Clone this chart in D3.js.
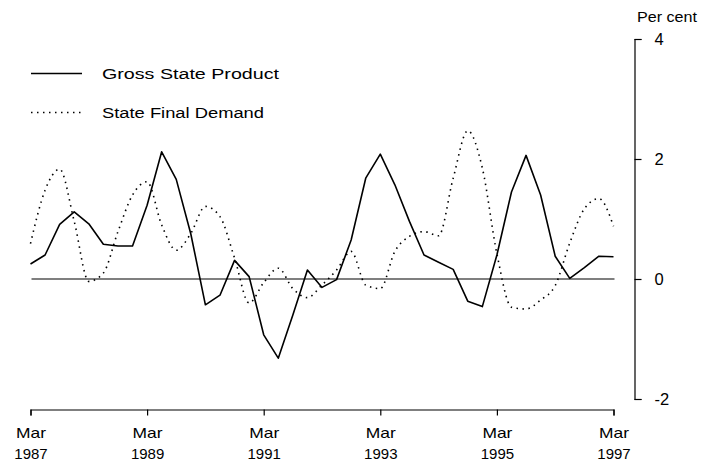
<!DOCTYPE html>
<html>
<head>
<meta charset="utf-8">
<script src="https://cdn.jsdelivr.net/npm/d3@7"></script>
<style>
  html, body { margin: 0; padding: 0; background: #fff; }
  svg { display: block; font-family: "Liberation Sans", Arial, Helvetica, sans-serif; }
</style>
</head>
<body>
<svg id="chart" width="715" height="466"></svg>
<script>
// ---- data ----
const quarters = [
  "Mar 1987","Jun 1987","Sep 1987","Dec 1987",
  "Mar 1988","Jun 1988","Sep 1988","Dec 1988",
  "Mar 1989","Jun 1989","Sep 1989","Dec 1989",
  "Mar 1990","Jun 1990","Sep 1990","Dec 1990",
  "Mar 1991","Jun 1991","Sep 1991","Dec 1991",
  "Mar 1992","Jun 1992","Sep 1992","Dec 1992",
  "Mar 1993","Jun 1993","Sep 1993","Dec 1993",
  "Mar 1994","Jun 1994","Sep 1994","Dec 1994",
  "Mar 1995","Jun 1995","Sep 1995","Dec 1995",
  "Mar 1996","Jun 1996","Sep 1996","Dec 1996",
  "Mar 1997"
];
const grossStateProduct = [
  0.25, 0.40, 0.91, 1.12, 0.92, 0.58, 0.55, 0.55,
  1.23, 2.12, 1.66, 0.75, -0.43, -0.27, 0.31, 0.04,
  -0.93, -1.32, -0.60, 0.15, -0.14, -0.01, 0.65, 1.68,
  2.08, 1.57, 0.96, 0.40, 0.28, 0.16, -0.37, -0.46,
  0.40, 1.45, 2.06, 1.40, 0.38, 0.01, 0.19, 0.38,
  0.37
];
const stateFinalDemand = [
  0.59, 1.48, 1.83, 0.96, -0.04, 0.10, 0.79, 1.40,
  1.62, 0.90, 0.48, 0.76, 1.21, 1.04, 0.35, -0.40,
  -0.06, 0.18, -0.16, -0.31, -0.10, 0.15, 0.46, -0.10,
  -0.16, 0.46, 0.71, 0.79, 0.72, 1.68, 2.47, 1.85,
  0.42, -0.47, -0.50, -0.35, -0.11, 0.60, 1.17, 1.34,
  0.88
];
const xTickCats = ["Mar 1987","Mar 1989","Mar 1991","Mar 1993","Mar 1995","Mar 1997"];
const yTickValues = [-2, 0, 2, 4];
const yTickLabels = ["-2", "0", "2", "4"];
const seriesNames = ["Gross State Product", "State Final Demand"];
const unitLabel = "Per cent";

// ---- layout ----
const svg = d3.select("#chart");
const x = d3.scalePoint().domain(quarters).range([30.5, 613.5]);
const y = d3.scaleLinear().domain([-2, 4]).range([399, 39]);
const axisX = 634.5;
const axisY = 409.5;

// zero line
svg.append("line")
  .attr("x1", x(quarters[0]) + 1).attr("x2", x(quarters[quarters.length - 1]) + 1)
  .attr("y1", y(0)).attr("y2", y(0))
  .attr("stroke", "#000").attr("stroke-width", 1.1);

// series
svg.append("path")
  .datum(stateFinalDemand)
  .attr("d", d3.line().x((d, i) => x(quarters[i])).y(d => y(d)).curve(d3.curveMonotoneX))
  .attr("fill", "none").attr("stroke", "#000")
  .attr("stroke-width", 1.6)
  .attr("stroke-dasharray", "1.5,4.5");
svg.append("path")
  .datum(grossStateProduct)
  .attr("d", d3.line().x((d, i) => x(quarters[i])).y(d => y(d)))
  .attr("fill", "none").attr("stroke", "#000")
  .attr("stroke-width", 1.6).attr("stroke-linejoin", "round");

// x axis
const gx = svg.append("g")
  .attr("transform", `translate(0,${axisY})`)
  .call(d3.axisBottom(x).tickValues(xTickCats).tickSize(6).tickSizeOuter(6).tickFormat(() => ""));
gx.selectAll("path, line").attr("stroke", "#000").attr("stroke-width", 1.2);
gx.selectAll(".tick").each(function(d) {
  const parts = d.split(" ");
  const t = d3.select(this).select("text")
    .attr("y", 0).attr("dy", null)
    .attr("font-size", 15).attr("fill", "#000")
    .attr("text-anchor", "middle");
  t.append("tspan").attr("x", 0).attr("y", 28).attr("textLength", 30).attr("lengthAdjust", "spacingAndGlyphs").text(parts[0]);
  t.append("tspan").attr("x", 0).attr("y", 49).text(parts[1]);
});

// y axis (right)
const gy = svg.append("g")
  .attr("transform", `translate(${axisX},0)`)
  .call(d3.axisRight(y).tickValues(yTickValues).tickSize(7).tickSizeOuter(7).tickPadding(13)
    .tickFormat((d, i) => yTickLabels[i]));
gy.selectAll("path, line").attr("stroke", "#000").attr("stroke-width", 1.2);
gy.selectAll("text").attr("font-size", 16.5).attr("fill", "#000");

svg.append("text")
  .attr("x", 637).attr("y", 22)
  .attr("font-size", 15).attr("fill", "#000")
  .attr("textLength", 60).attr("lengthAdjust", "spacingAndGlyphs")
  .text(unitLabel);

// legend
const legend = svg.append("g");
const legendRows = [
  { name: seriesNames[0], dash: null, y: 73.5, len: 177 },
  { name: seriesNames[1], dash: "1.5,4.5", y: 112.5, len: 162 }
];
legendRows.forEach(r => {
  legend.append("line")
    .attr("x1", 31).attr("x2", 82).attr("y1", r.y).attr("y2", r.y)
    .attr("stroke", "#000").attr("stroke-width", r.dash ? 1.6 : 1.3)
    .attr("stroke-dasharray", r.dash);
  legend.append("text")
    .attr("x", 102).attr("y", r.y + 5.5)
    .attr("font-size", 15.5).attr("fill", "#000")
    .attr("textLength", r.len).attr("lengthAdjust", "spacingAndGlyphs")
    .text(r.name);
});
</script>
</body>
</html>
